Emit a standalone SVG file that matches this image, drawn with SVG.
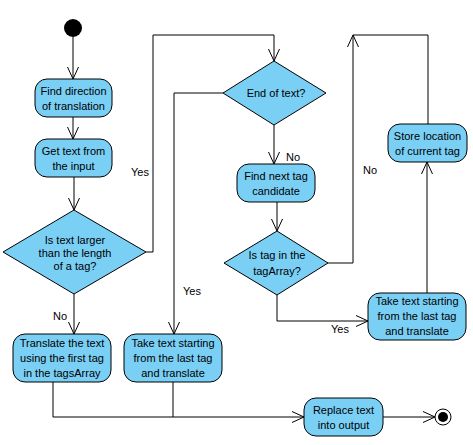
<svg xmlns="http://www.w3.org/2000/svg" width="473" height="445" viewBox="0 0 473 445">
<style>
.n{fill:#7ACFF5;stroke:#000;stroke-width:1}
.c{fill:none;stroke:#000;stroke-width:1}
text{font-family:"Liberation Sans",Arial,sans-serif;font-size:11px;fill:#000}
.m{text-anchor:middle}
</style>
<defs>
<marker id="a" markerUnits="userSpaceOnUse" markerWidth="14" markerHeight="14" viewBox="-13 -7 14 14" refX="0" refY="0" orient="auto">
<path d="M-12,-5.5 L0,0 L-12,5.5" fill="none" stroke="#000" stroke-width="1"/>
</marker>
</defs>
<rect width="473" height="445" fill="#fff"/>
<g id="connectors">
<path class="c" d="M73,37 V79" marker-end="url(#a)"/>
<path class="c" d="M73,117 V139" marker-end="url(#a)"/>
<path class="c" d="M74,177 V210" marker-end="url(#a)"/>
<path class="c" d="M146,252 H153 V35 H274 V61" marker-end="url(#a)"/>
<path class="c" d="M223,93 H174 V334" marker-end="url(#a)"/>
<path class="c" d="M274,125 V164" marker-end="url(#a)"/>
<path class="c" d="M277,202 V231" marker-end="url(#a)"/>
<path class="c" d="M328,263 H353 V35" marker-end="url(#a)"/>
<path class="c" d="M277,295 V321 H368" marker-end="url(#a)"/>
<path class="c" d="M427,293 V162" marker-end="url(#a)"/>
<path class="c" d="M428,124 V35 H353"/>
<path class="c" d="M74,294 V334" marker-end="url(#a)"/>
<path class="c" d="M53,382 V417 H304" marker-end="url(#a)"/>
<path class="c" d="M173,382 V417"/>
<path class="c" d="M383,417 H435" marker-end="url(#a)"/>
<text x="131" y="176">Yes</text>
<text x="183" y="295">Yes</text>
<text x="286" y="161">No</text>
<text x="363" y="174">No</text>
<text x="331" y="333">Yes</text>
<text x="53" y="320">No</text>
</g>
<g id="start"><circle cx="73" cy="28" r="9" fill="#000"/></g>
<g id="find-direction">
<rect class="n" x="35" y="79" width="77" height="38" rx="12"/>
<text class="m" x="73.5" y="95">Find direction</text>
<text class="m" x="73.5" y="110">of translation</text>
</g>
<g id="get-text">
<rect class="n" x="35" y="139" width="77" height="38" rx="12"/>
<text class="m" x="73.5" y="155">Get text  from</text>
<text class="m" x="73.5" y="170">the input</text>
</g>
<g id="is-larger">
<polygon class="n" points="74,210 146,252 74,294 3,252"/>
<text class="m" x="75" y="244">Is text larger</text>
<text class="m" x="75" y="257">than the length</text>
<text class="m" x="75" y="270">of a tag?</text>
</g>
<g id="end-of-text">
<polygon class="n" points="274,61 326,93 274,125 223,93"/>
<text class="m" x="276" y="97">End of text?</text>
</g>
<g id="find-next">
<rect class="n" x="237" y="164" width="78" height="38" rx="12"/>
<text class="m" x="276" y="180">Find next tag</text>
<text class="m" x="276" y="195">candidate</text>
</g>
<g id="is-tag">
<polygon class="n" points="277,231 328,263 277,295 224,263"/>
<text class="m" x="277" y="259">Is tag in the</text>
<text class="m" x="277" y="275">tagArray?</text>
</g>
<g id="store-location">
<rect class="n" x="388" y="124" width="79" height="38" rx="12"/>
<text class="m" x="427.5" y="140">Store location</text>
<text class="m" x="427.5" y="155">of current tag</text>
</g>
<g id="take-right">
<rect class="n" x="368" y="293" width="98" height="47" rx="12"/>
<text class="m" x="417" y="305">Take text starting</text>
<text class="m" x="417" y="320">from the last tag</text>
<text class="m" x="417" y="335">and translate</text>
</g>
<g id="translate-first">
<rect class="n" x="13" y="334" width="98" height="48" rx="12"/>
<text class="m" x="62" y="347">Translate the text</text>
<text class="m" x="62" y="362">using the first tag</text>
<text class="m" x="62" y="377">in the tagsArray</text>
</g>
<g id="take-left">
<rect class="n" x="124" y="334" width="98" height="48" rx="12"/>
<text class="m" x="173" y="347">Take text starting</text>
<text class="m" x="173" y="362">from the last tag</text>
<text class="m" x="173" y="377">and translate</text>
</g>
<g id="replace">
<rect class="n" x="304" y="398" width="79" height="38" rx="12"/>
<text class="m" x="343.5" y="414">Replace text</text>
<text class="m" x="343.5" y="429">into output</text>
</g>
<g id="end">
<circle cx="443" cy="417" r="8" fill="#fff" stroke="#000" stroke-width="1"/>
<circle cx="443" cy="417" r="5" fill="#000"/>
</g>
</svg>
